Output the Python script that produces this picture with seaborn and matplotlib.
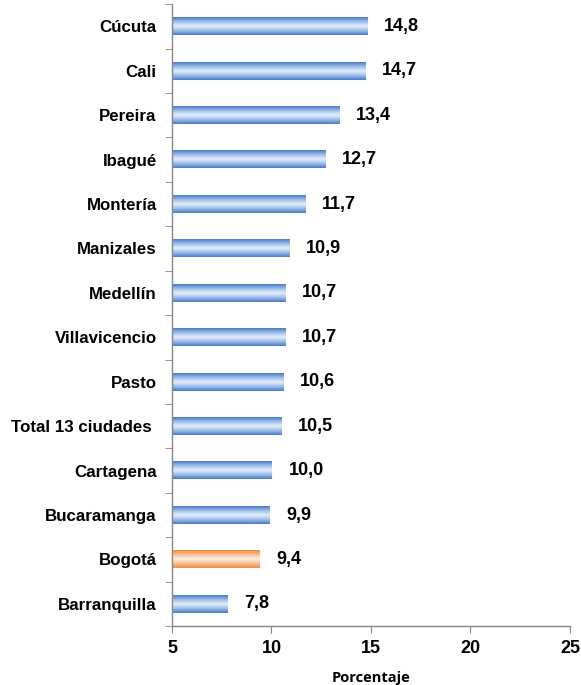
import numpy as np
import pandas as pd
import matplotlib
matplotlib.use("Agg")
import matplotlib.pyplot as plt
from matplotlib.colors import LinearSegmentedColormap
import seaborn as sns

sns.set_style("white")
plt.rcParams['font.family'] = ['Liberation Sans', 'DejaVu Sans']
plt.rcParams['text.color'] = 'black'
plt.rcParams['xtick.color'] = 'black'
plt.rcParams['ytick.color'] = 'black'
plt.rcParams['axes.labelcolor'] = 'black'

# datos
ciudades = ["Cúcuta", "Cali", "Pereira", "Ibagué", "Montería", "Manizales",
            "Medellín", "Villavicencio", "Pasto", "Total 13 ciudades ",
            "Cartagena", "Bucaramanga", "Bogotá", "Barranquilla"]
valores = [14.8, 14.7, 13.4, 12.7, 11.7, 10.9, 10.7, 10.7, 10.6, 10.5,
           10.0, 9.9, 9.4, 7.8]
etiquetas = ["14,8", "14,7", "13,4", "12,7", "11,7", "10,9", "10,7", "10,7",
             "10,6", "10,5", "10,0", "9,9", "9,4", "7,8"]
destacada = "Bogotá"

df = pd.DataFrame({"ciudad": ciudades, "valor": valores})

fig = plt.figure(figsize=(5.81, 6.85), dpi=100)
ax = fig.add_axes([0.296, 0.086, 0.685, 0.908])

sns.barplot(data=df, x="valor", y="ciudad", ax=ax, width=0.4,
            color="#5b8bd4", orient="h")

# degradado tipo Excel en cada barra (las barras nacen en el eje, x=5)
azul = LinearSegmentedColormap.from_list("azul", ["#4a7cc9", "#9cbde8", "#e4f0fb", "#9cbde8", "#4a7cc9"])
naranja = LinearSegmentedColormap.from_list("naranja", ["#f08a3e", "#f8bf95", "#fdeee3", "#f8bf95", "#f08a3e"])
grad = np.linspace(0, 1, 64).reshape(-1, 1)
for patch, ciudad in zip(ax.patches, df["ciudad"]):
    y0, h = patch.get_y(), patch.get_height()
    fin = patch.get_x() + patch.get_width()
    cmap = naranja if ciudad == destacada else azul
    ax.imshow(grad, cmap=cmap, aspect="auto", extent=(5, fin, y0 + h, y0),
              zorder=2, interpolation="bilinear")
    patch.set_visible(False)
ax.set_xlim(5, 25)
ax.set_ylim(len(ciudades) - 0.5, -0.5)

for i, (v, t) in enumerate(zip(valores, etiquetas)):
    ax.text(v + 0.85, i, t, va="center", ha="left", fontsize=13, fontweight="bold")

ax.set_xticks([5, 10, 15, 20, 25])
ax.set_xticklabels(["5", "10", "15", "20", "25"], fontsize=13, fontweight="bold")
ax.set_yticks(range(len(ciudades)))
ax.set_yticklabels(ciudades, fontsize=12.2, fontweight="bold")
ax.tick_params(axis="y", which="major", left=True, length=0, pad=11)
ax.tick_params(axis="x", bottom=True, length=5, direction="out", color="#868686", pad=5)
# marcas entre categorías
ax.set_yticks(np.arange(-0.5, len(ciudades), 1), minor=True)
ax.tick_params(axis="y", which="minor", left=True, length=5, direction="out", color="#868686")

ax.set_xlabel("Porcentaje", fontsize=10.5, fontweight="bold", family=["Open Sans", "DejaVu Sans"], labelpad=10)
ax.set_ylabel("")
for s in ["top", "right"]:
    ax.spines[s].set_visible(False)
for s in ["left", "bottom"]:
    ax.spines[s].set_color("#868686")
    ax.spines[s].set_linewidth(1)

plt.savefig("out.png", dpi=100)
